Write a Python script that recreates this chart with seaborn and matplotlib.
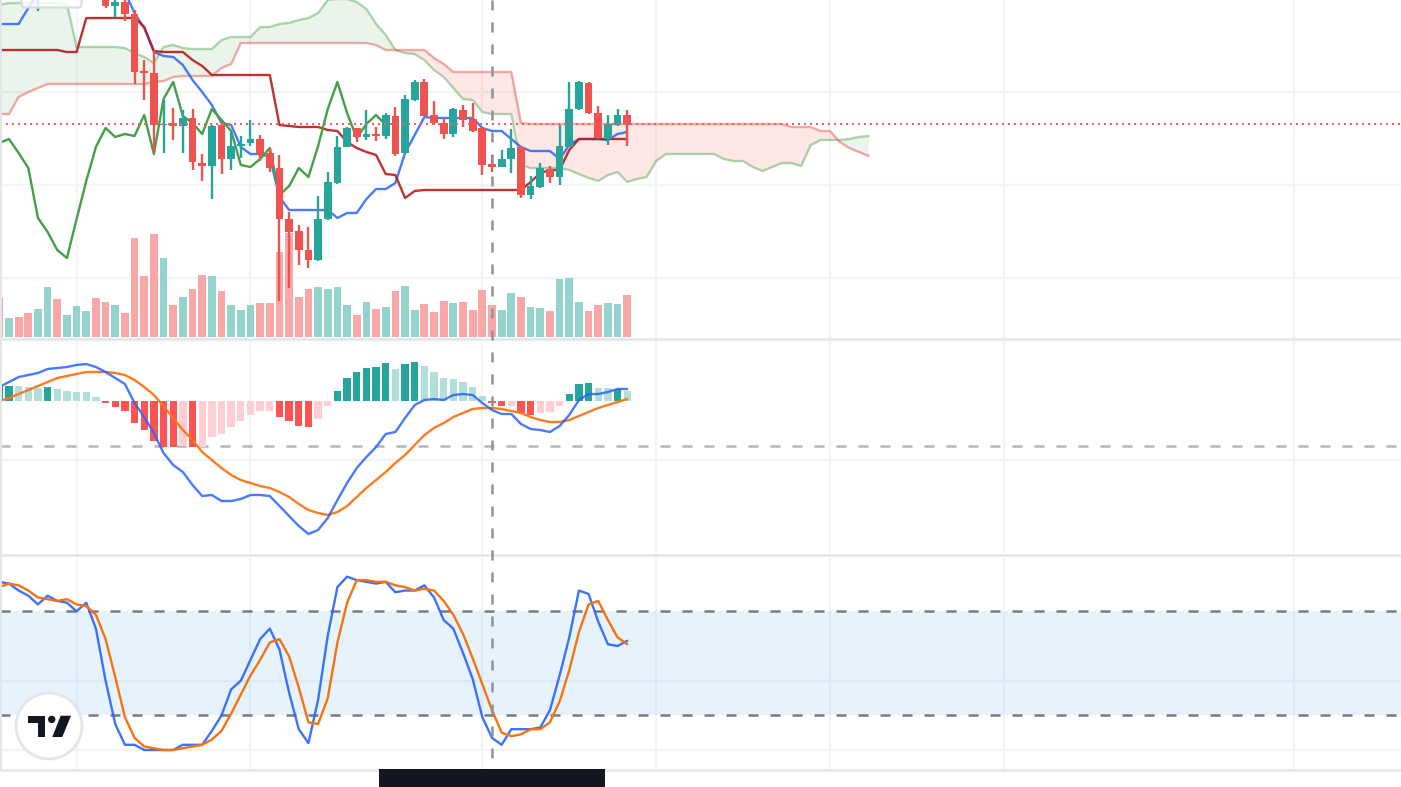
import numpy as np
import matplotlib
matplotlib.use("Agg")
import matplotlib.pyplot as plt
from matplotlib.patches import Circle, FancyBboxPatch, Polygon, Rectangle
import seaborn as sns

# ---------- price pane ----------
candle_bars = [4] + list(range(11, 66))
opens = [345, 343, 332, 336, 324, 267, 265, 213, 215, 212, 220, 175, 172, 213, 179, 192, 195, 199, 185, 170,
         119, 107, 88, 78, 119, 155, 191, 210, 201, 204, 202, 222, 185, 238, 256, 223, 215, 204, 228, 219,
         210, 174, 171, 179, 191, 143, 151, 169, 161, 191, 229, 255, 225, 199, 213, 223]
highs = [356, 346, 341, 338, 328, 278, 288, 238, 230, 228, 229, 184, 213, 216, 206, 202, 218, 203, 190, 183,
         126, 113, 111, 142, 166, 202, 211, 210, 228, 211, 225, 231, 243, 258, 259, 237, 220, 230, 233, 235,
         210, 183, 188, 209, 192, 162, 175, 172, 213, 256, 257, 256, 232, 223, 229, 228]
lows = [327, 330, 321, 317, 254, 238, 186, 185, 198, 185, 168, 157, 139, 164, 168, 180, 192, 177, 166, 37,
        50, 73, 70, 77, 118, 154, 191, 196, 198, 197, 199, 182, 185, 237, 222, 213, 199, 201, 211, 206,
        163, 166, 171, 165, 140, 139, 150, 155, 153, 191, 228, 224, 199, 193, 212, 192]
closes = [350, 332, 336, 324, 266, 265, 213, 214, 212, 220, 176, 172, 212, 179, 192, 194, 199, 184, 170, 119,
          106, 88, 78, 119, 156, 191, 210, 201, 204, 202, 223, 184, 239, 256, 222, 215, 204, 229, 218, 207,
          173, 171, 179, 190, 143, 152, 170, 161, 192, 229, 256, 225, 200, 214, 223, 213]

conversion = [314, 314, 314, 330, 345, 360, 360, 360, 360, 360, 360, 360, 360, 346, 325, 310, 286, 282, 281, 273,
              258, 246, 233, 215, 213, 191, 184, 184, 181, 141, 128, 128, 128, 128, 128, 120, 125, 125, 139, 149,
              149, 155, 185, 203, 221, 220, 220, 220, 220, 220, 210, 207, 207, 199, 191, 187, 187, 187, 179, 193,
              199, 199, 199, 198, 204, 206]
baseline = [288, 288, 288, 288, 288, 288, 288, 286, 286, 320, 320, 320, 320, 320, 320, 311, 287, 286, 286, 286,
            278, 272, 263, 263, 263, 263, 263, 263, 263, 213, 212, 211, 211, 211, 208, 207, 196, 190, 186, 183,
            164, 163, 140, 147, 148, 148, 148, 148, 148, 148, 148, 148, 148, 148, 148, 156, 165, 168, 168, 188,
            199, 199, 199, 199, 199, 199]
lagging = [195, 199, 185, 170, 120, 106, 88, 80, 119, 157, 191, 210, 201, 204, 202, 223, 184, 239, 256, 222,
           215, 204, 229, 218, 207, 173, 171, 179, 190, 143, 152, 170, 161, 192, 229, 256, 225, 200, 214, 223, 213]
span_a = [333, 335, 335, 335, 335, 335, 335, 334, 291, 291, 291, 291, 291, 290, 285, 281, 275, 291, 293, 290,
          289, 289, 289, 298, 301, 301, 301, 311, 311, 314, 315, 318, 320, 325, 338, 339, 339, 336, 329, 314,
          303, 288, 285, 284, 278, 268, 261, 250, 239, 238, 226, 224, 224, 224, 173, 170, 170, 170, 170, 168,
          164, 160, 157, 163, 166, 156, 159, 161, 177, 184, 184, 184, 184, 184, 184, 179, 177, 177, 171, 167,
          171, 175, 175, 172, 193, 198, 198, 198, 199, 201, 202]
span_b = [224, 224, 241, 246, 250, 254, 254, 254, 254, 254, 254, 254, 254, 254, 254, 254, 256, 257, 261, 262,
          262, 262, 262, 270, 274, 295, 295, 295, 295, 295, 295, 295, 295, 295, 295, 295, 295, 295, 295, 293,
          288, 288, 288, 288, 288, 280, 274, 266, 266, 266, 266, 266, 266, 266, 215, 214, 214, 214, 214, 214,
          214, 214, 214, 214, 214, 214, 214, 214, 214, 214, 214, 214, 214, 214, 214, 214, 214, 214, 214, 214,
          214, 214, 211, 211, 211, 207, 207, 196, 190, 186, 182]

volume = [39, 19, 20, 24, 28, 50, 38, 22, 31, 26, 39, 35, 32, 24, 99, 61, 103, 79, 32, 40,
          48, 62, 61, 46, 32, 27, 32, 34, 34, 85, 104, 40, 48, 50, 48, 50, 32, 22, 35, 28,
          30, 46, 51, 27, 33, 25, 36, 34, 35, 27, 47, 32, 27, 44, 40, 30, 29, 26, 58, 59,
          35, 26, 32, 34, 33, 42]
volume_side = list("dudduudu" "uuddu" "ddd" "dududdud" "uuuddddd" "duuuudud" "uduudddu" "dddduudu" "uduuuddu" "ud")

# ---------- MACD pane ----------
macd_hist = [15, 15, 15, 14, 13, 14, 12, 10, 9, 9, 4, -2, -6, -10, -22, -29, -40, -46, -46, -45,
             -46, -46, -36, -33, -26, -20, -14, -10, -10, -16, -20, -25, -26, -18, -5, 10, 23, 29, 33, 34,
             38, 32, 37, 39, 35, 29, 23, 22, 19, 14, 5, -2, -5, -5, -12, -14, -12, -11, -5, 7,
             17, 18, 13, 13, 12, 10]
macd_shade = list("SSWWWSWWWW" "WSSSSSSSSW" "SWWWWWWWWS" "SSSWWSSSSS" "SWSSWWWWWW" "WSSWSSWWWS" "SSWWSW")
macd_line = [14, 19, 24, 26, 28, 32, 33, 34, 36, 37, 34, 29, 23, 17, -2, -16, -32, -52, -64, -71,
             -84, -95, -94, -100, -100, -98, -94, -94, -95, -105, -115, -125, -133, -129, -117, -99, -82, -67, -56, -46,
             -33, -31, -17, -4, 1, 2, 1, 6, 7, 6, -2, -9, -13, -13, -23, -28, -29, -31, -25, -14,
             1, 7, 7, 9, 12, 12]
signal_line = [0, 3, 7, 11, 15, 19, 23, 25, 27, 29, 29, 29, 28, 26, 21, 14, 6, -5, -17, -29,
               -39, -51, -59, -67, -74, -79, -82, -85, -87, -91, -96, -103, -109, -112, -114, -111, -105, -96, -87, -79,
               -71, -62, -54, -44, -34, -27, -22, -16, -12, -8, -7, -7, -8, -10, -12, -16, -19, -21, -21, -19,
               -15, -11, -7, -4, -1, 2]

# ---------- stochastic pane ----------
stoch_k = [97, 96, 92, 89, 84, 89, 86, 85, 80, 85, 70, 40, 15, 3, 3, 0, 0, 0, 0, 3,
           3, 3, 11, 20, 35, 40, 52, 64, 70, 58, 33, 12, 4, 29, 66, 94, 100, 98, 97, 96,
           97, 91, 92, 92, 95, 88, 75, 70, 56, 41, 19, 7, 3, 12, 12, 12, 13, 23, 43, 65,
           92, 90, 74, 61, 60, 63]
stoch_d = [94, 96, 95, 92, 88, 87, 86, 87, 84, 83, 78, 64, 42, 19, 7, 2, 1, 0, 0, 1,
           2, 3, 6, 11, 21, 32, 43, 52, 62, 64, 54, 36, 16, 15, 30, 62, 85, 98, 98, 97,
           97, 95, 94, 92, 93, 92, 86, 78, 67, 53, 38, 23, 10, 8, 9, 12, 12, 16, 28, 46,
           68, 84, 86, 75, 65, 61]

# Gridline ticks
time_ticks = [8, 26, 50, 68, 86, 104, 134]
price_ticks = [60, 153, 246]
macd_ticks = [-59]
stoch_ticks = [0, 40]

TEAL, RED = "#26a69a", "#ef5350"
GRID = "#f3f4f6"
BORDER = "#e4e5ea"
INK = "#131722"
BLUE = "#2962ff"
ORANGE = "#ff7417"

sns.set_theme(style="white")
plt.rcParams["lines.scale_dashes"] = False
plt.rcParams["font.family"] = ["DejaVu Sans"]

W, H = 1401, 787
fig = plt.figure(figsize=(W / 100, H / 100), dpi=100, facecolor="white")
X_LIM = (0.07, 0.07 + W / 9.66)
LINE_W = 1.7


def pane(top, bottom, ylim, yticks):
    ax = fig.add_axes([0, 1 - bottom / H, 1, (bottom - top) / H], facecolor="white")
    ax.set_xlim(*X_LIM)
    ax.set_ylim(*ylim)
    ax.set_xticks(time_ticks)
    ax.set_yticks(yticks)
    ax.tick_params(length=0, labelbottom=False, labelleft=False)
    ax.grid(True, color=GRID, lw=1.6)
    ax.set_axisbelow(True)
    ax.set_xlabel("")
    ax.set_ylabel("")
    for s in ax.spines.values():
        s.set_visible(False)
    return ax


def finish(ax, ylim, yticks):
    # seaborn's categorical plots reset limits and ticks
    ax.set_xlim(*X_LIM)
    ax.set_ylim(*ylim)
    ax.set_xticks(time_ticks)
    ax.set_yticks(yticks)
    ax.tick_params(length=0, labelbottom=False, labelleft=False)
    ax.set_xlabel("")
    ax.set_ylabel("")


def line(ax, xs, ys, color, alpha=1.0, lw=LINE_W, zorder=3):
    sns.lineplot(x=xs, y=ys, color=color, alpha=alpha, linewidth=lw, ax=ax,
                 errorbar=None, sort=False, zorder=zorder)


# Volume sits on its own scale beneath the price axes
vol_lim = (-1, 337)
vol_grid = [t - 1 for t in price_ticks]
ax_vol = pane(0, 338, vol_lim, vol_grid)
bars = np.arange(len(volume))
sns.barplot(x=bars, y=volume, hue=volume_side, palette={"u": "#94d3cd", "d": "#f9a8a7"},
            native_scale=True, dodge=False, width=0.8, saturation=1, legend=False, ax=ax_vol, zorder=2,
            linewidth=0)
finish(ax_vol, vol_lim, vol_grid)

price_lim = (0, 338)
ax_p = fig.add_axes([0, 1 - 338 / H, 1, 338 / H])
ax_p.patch.set_alpha(0)
ax_p.axis("off")

# Cloud
fwd = np.arange(len(span_a))
a, b = np.array(span_a, float), np.array(span_b, float)
ax_p.fill_between(fwd, a, b, where=a >= b, interpolate=True, color="#43a047", alpha=0.11, lw=0, zorder=1)
ax_p.fill_between(fwd, a, b, where=a <= b, interpolate=True, color="#f44336", alpha=0.12, lw=0, zorder=1)
line(ax_p, fwd, span_a, "#43a047", alpha=0.42, zorder=2)
line(ax_p, fwd, span_b, "#e53935", alpha=0.42, zorder=2)

# Conversion, base and lagging lines
line(ax_p, np.arange(len(conversion)), conversion, BLUE, alpha=0.85)
line(ax_p, np.arange(len(baseline)), baseline, "#b71c1c", alpha=0.9)
line(ax_p, np.arange(len(lagging)), lagging, "#43a047")

# Candles
cb = np.array(candle_bars)
o, h, l, c = map(np.array, (opens, highs, lows, closes))
colors = [TEAL if cc >= oo else RED for oo, cc in zip(o, c)]
ax_p.vlines(cb, l, h, colors=colors, lw=1.7, zorder=4)
ax_p.bar(cb, np.abs(c - o), bottom=np.minimum(o, c), width=0.8, color=colors, linewidth=0, zorder=5)
ax_p.axhline(214, color="#f4605d", lw=1.45, ls=(0, (1.45, 2.87)), zorder=6)
ax_p.set_xlim(*X_LIM)
ax_p.set_ylim(*price_lim)
ax_p.axis("off")

# MACD pane
macd_lim = (-152, 61)
ax_m = pane(340, 553, macd_lim, macd_ticks)
hist_colors = {"S+": "#26a69a", "W+": "#b2dfdb", "S-": "#ff5252", "W-": "#ffcdd2"}
hist_keys = [f"{s}{'+' if v >= 0 else '-'}" for s, v in zip(macd_shade, macd_hist)]
sns.barplot(x=np.arange(len(macd_hist)), y=macd_hist, hue=hist_keys, palette=hist_colors,
            native_scale=True, dodge=False, width=0.76, saturation=1, legend=False, ax=ax_m, zorder=2,
            linewidth=0)
finish(ax_m, macd_lim, macd_ticks)
ax_m.axhline(-45, color="#b2b5be", lw=1.8, ls=(0, (7.2, 8.64)), zorder=1)
line(ax_m, np.arange(len(signal_line)), signal_line, ORANGE, alpha=0.95)
line(ax_m, np.arange(len(macd_line)), macd_line, BLUE, alpha=0.85, zorder=4)
ax_m.set_xlim(*X_LIM)
ax_m.set_ylim(*macd_lim)

# Stochastic pane
stoch_lim = (-11.54, 112.5)
ax_s = pane(555, 770, stoch_lim, stoch_ticks)
ax_s.axhspan(20, 80, color="#2196f3", alpha=0.11, lw=0, zorder=1)
for level in (20, 80):
    ax_s.axhline(level, color="#787b86", lw=1.8, ls=(0, (7.2, 8.64)), zorder=2)
line(ax_s, np.arange(len(stoch_k)), stoch_k, BLUE, alpha=0.9)
line(ax_s, np.arange(len(stoch_d)), stoch_d, "#f57310", zorder=4)
ax_s.set_xlim(*X_LIM)
ax_s.set_ylim(*stoch_lim)

# Layout chrome: separators, crosshair, time marker, logo, legend widget
ov = fig.add_axes([0, 0, 1, 1], facecolor="none", zorder=10)
ov.set_xlim(0, W)
ov.set_ylim(H, 0)
ov.axis("off")
for y in (339, 554.5, 770):
    ov.hlines(y, 0, W, color=BORDER, lw=1.8, zorder=1)
ov.vlines(491.8, 0, 765, color="#8f929c", lw=1.8, ls=(0, (7.2, 8.64)), zorder=1)
ov.add_patch(Rectangle((0, 0), 2, 771, color=BORDER, lw=0, zorder=2))
ov.add_patch(Rectangle((379, 769), 226, 18, color=INK, lw=0, zorder=5))
ov.add_patch(FancyBboxPatch((21.5, -8), 60, 15.5, boxstyle="round,pad=0,rounding_size=3",
                            fc=(1, 1, 1, 0.82), ec="#d8dbe2", lw=1.6, zorder=3))
ov.add_patch(Circle((49, 726), 33, fc="white", ec=BORDER, lw=2, zorder=3))
ov.add_patch(Polygon([(28.3, 715.7), (45, 715.7), (45, 736.7), (37.7, 736.7), (37.7, 723.3), (28.3, 723.3)],
                     fc=INK, lw=0, zorder=4))
ov.add_patch(Circle((51.7, 719.4), 3.7, fc=INK, lw=0, zorder=4))
ov.add_patch(Polygon([(60.7, 715.7), (71, 715.7), (62.3, 737), (52.3, 737)], fc=INK, lw=0, zorder=4))

fig.savefig("out.png", dpi=100, facecolor="white")
